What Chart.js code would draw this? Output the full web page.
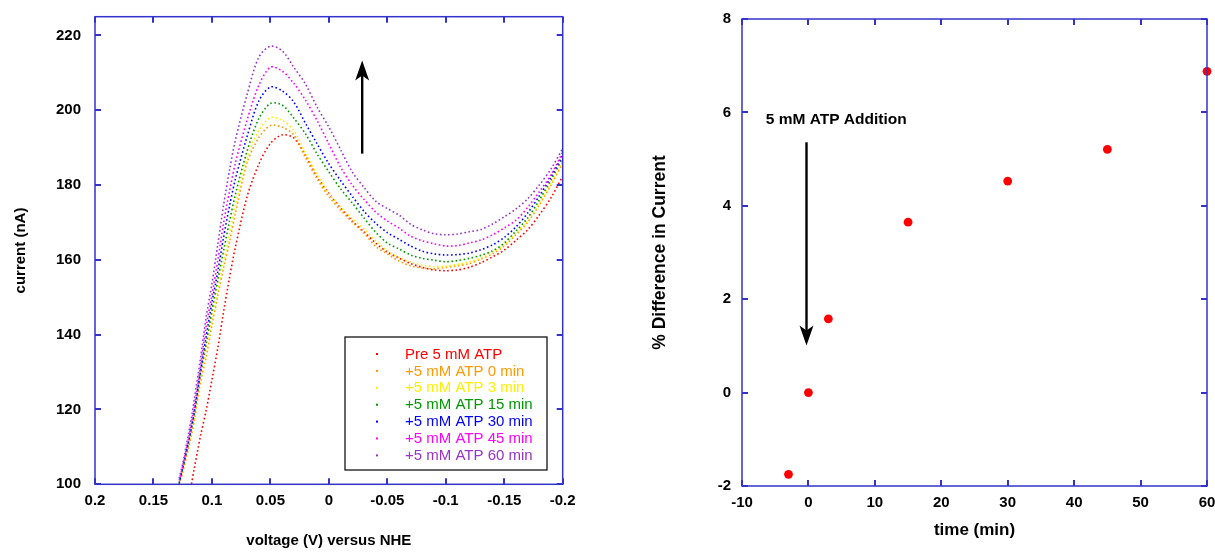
<!DOCTYPE html>
<html><head><meta charset="utf-8">
<script src="https://cdn.jsdelivr.net/npm/chart.js@4"></script>
<style>
html,body{margin:0;padding:0;background:#fff;width:1215px;height:552px;overflow:hidden}
#c1{position:absolute;left:0;top:0}
#c2{position:absolute;left:610px;top:0}
</style></head><body>
<canvas id="c1" width="610" height="552"></canvas>
<canvas id="c2" width="605" height="552"></canvas>
<script>
// ---------- Left chart data: voltage (V) vs current (nA) ----------
const voltage = [0.128, 0.125, 0.12, 0.1175, 0.115, 0.11, 0.105, 0.10, 0.095, 0.09, 0.085, 0.08, 0.07, 0.06, 0.05, 0.04, 0.03, 0.02, 0.01, 0,
  -0.01, -0.02, -0.03, -0.04, -0.05, -0.06, -0.07, -0.08, -0.09, -0.10, -0.11, -0.12, -0.13, -0.14, -0.15, -0.16, -0.17, -0.18, -0.19, -0.20];
const pre5mM = [null, null, null, 100.1, 104.4, 112.6, 119.7, 127.9, 136.4, 146.2, 155.2, 163.3, 176.8, 185.5, 191.1, 193.4, 192.6, 187.9, 182.2, 177.8,
  173.9, 170.4, 167.5, 164.5, 162.1, 160.5, 159.0, 158.0, 157.3, 157.1, 157.3, 158.0, 159.2, 160.8, 162.6, 165.2, 168.0, 172.0, 176.6, 182.4];
const atp0min = [99.9, 103.2, 109.7, 113.2, 117.2, 126.9, 133.9, 142.5, 150.4, 157.8, 164.8, 172.3, 185.9, 192.6, 195.9, 195.5, 193.4, 187.3, 181.6, 176.9,
  173.3, 170.1, 167.2, 163.6, 161.6, 159.7, 158.4, 157.8, 157.6, 158.0, 158.4, 159.0, 160.2, 161.6, 163.7, 166.7, 170.0, 174.7, 180.0, 185.9];
const atp3min = [100.2, 103.6, 110.3, 114.0, 118.1, 128.2, 136.0, 144.2, 152.0, 159.5, 166.9, 174.4, 187.2, 194.5, 198.0, 197.3, 194.6, 188.5, 182.7, 177.8,
  174.1, 171.1, 168.3, 165.1, 162.4, 160.6, 159.4, 158.6, 158.2, 158.3, 158.8, 159.4, 160.5, 162.1, 164.1, 167.2, 170.4, 175.2, 180.6, 186.5];
const atp15min = [100.1, 104.0, 111.0, 114.9, 118.9, 129.1, 137.5, 146.3, 154.5, 162.5, 170.2, 177.4, 189.0, 197.7, 201.8, 201.4, 197.9, 193.7, 188.3, 183.5,
  179.0, 175.2, 171.2, 167.4, 164.5, 162.9, 161.3, 160.4, 159.9, 159.5, 159.8, 160.4, 161.2, 162.4, 164.5, 167.7, 171.2, 176.0, 181.4, 187.3];
const atp30min = [100.4, 104.4, 111.4, 115.3, 119.6, 129.7, 139.4, 148.6, 156.8, 166.1, 174.3, 181.5, 192.9, 202.4, 206.2, 205.2, 202.2, 196.5, 191.0, 185.7,
  181.2, 177.0, 173.0, 169.8, 167.3, 165.5, 163.7, 162.3, 161.6, 161.3, 161.4, 161.8, 162.7, 164.0, 166.0, 168.8, 172.5, 177.1, 182.2, 188.0];
const atp45min = [101.0, 104.9, 112.3, 116.4, 120.9, 131.1, 142.1, 150.6, 159.8, 169.9, 178.3, 185.8, 197.3, 206.6, 211.5, 210.5, 207.2, 202.7, 197.2, 191.0,
  184.8, 180.0, 176.2, 172.8, 170.4, 168.5, 166.3, 165.1, 164.3, 163.7, 163.8, 164.5, 165.3, 166.7, 168.5, 170.6, 174.0, 178.2, 182.7, 188.8];
const atp60min = [101.6, 105.5, 113.6, 117.8, 122.9, 133.2, 144.5, 153.6, 164.1, 174.7, 183.9, 191.9, 204.1, 214.1, 217.1, 215.9, 211.5, 207.0, 200.8, 195.5,
  189.5, 183.5, 179.4, 175.7, 173.7, 172.0, 169.5, 168.0, 167.0, 166.7, 166.9, 167.5, 168.1, 169.6, 171.5, 173.6, 176.3, 180.0, 184.3, 189.8];
const seriesLabels = ['Pre 5 mM ATP', '+5 mM ATP 0 min', '+5 mM ATP 3 min', '+5 mM ATP 15 min', '+5 mM ATP 30 min', '+5 mM ATP 45 min', '+5 mM ATP 60 min'];
const seriesColors = ['#ff0000', '#ff9900', '#ffee00', '#009900', '#0000ff', '#ff00ff', '#9933cc'];
const voltageTicks = [0.2, 0.15, 0.1, 0.05, 0, -0.05, -0.1, -0.15, -0.2];
const currentTicks = [100, 120, 140, 160, 180, 200, 220];
const upArrow = {x: -0.0285, from: 188.4, to: 213.3};

// ---------- Right chart data: time (min) vs % difference ----------
const timeMin = [-3, 0, 3, 15, 30, 45, 60];
const pctDiff = [-1.75, 0, 1.58, 3.65, 4.53, 5.21, 6.88];
const timeTicks = [-10, 0, 10, 20, 30, 40, 50, 60];
const pctTicks = [-2, 0, 2, 4, 6, 8];
const downArrow = {x: -0.29, from: 5.36, to: 1.01};
const note = {text: '5 mM ATP Addition', x: -6.43, y: 5.85};

const FONT = "'Liberation Sans', Arial, Helvetica, sans-serif";
const FRAME = '#3333cc';

const framePlugin = {
  id: 'frame',
  afterDraw(chart) {
    const {ctx, chartArea: a, scales} = chart;
    ctx.save();
    ctx.strokeStyle = FRAME;
    ctx.lineWidth = 1.5;
    ctx.strokeRect(a.left, a.top, a.right - a.left, a.bottom - a.top);
    ctx.lineWidth = 2;
    const L = 6;
    ctx.beginPath();
    scales.x.ticks.forEach(t => {
      const p = Math.round(scales.x.getPixelForValue(t.value));
      ctx.moveTo(p, a.bottom); ctx.lineTo(p, a.bottom - L);
      ctx.moveTo(p, a.top); ctx.lineTo(p, a.top + L);
    });
    scales.y.ticks.forEach(t => {
      const p = Math.round(scales.y.getPixelForValue(t.value));
      ctx.moveTo(a.left, p); ctx.lineTo(a.left + L, p);
      ctx.moveTo(a.right, p); ctx.lineTo(a.right - L, p);
    });
    ctx.stroke();
    ctx.restore();
  }
};

function drawArrow(ctx, x, y0, y1) {
  const dir = y1 < y0 ? -1 : 1;
  const head = 20, half = 7;
  ctx.save();
  ctx.strokeStyle = '#000'; ctx.fillStyle = '#000'; ctx.lineWidth = 2.4;
  ctx.beginPath(); ctx.moveTo(x, y0); ctx.lineTo(x, y1 - dir * head * 0.6); ctx.stroke();
  ctx.beginPath();
  ctx.moveTo(x, y1);
  ctx.lineTo(x - half, y1 - dir * head);
  ctx.lineTo(x, y1 - dir * head * 0.75);
  ctx.lineTo(x + half, y1 - dir * head);
  ctx.closePath(); ctx.fill();
  ctx.restore();
}

const leftDecor = {
  id: 'leftDecor',
  afterDraw(chart) {
    const {ctx, chartArea: a, scales: {x, y}} = chart;
    drawArrow(ctx, x.getPixelForValue(upArrow.x), y.getPixelForValue(upArrow.from), y.getPixelForValue(upArrow.to));
    // legend box
    const bx = a.left + 250, by = 337, bw = 202, bh = 133;
    ctx.save();
    ctx.fillStyle = '#fff'; ctx.fillRect(bx, by, bw, bh);
    ctx.strokeStyle = '#000'; ctx.lineWidth = 1.2; ctx.strokeRect(bx, by, bw, bh);
    ctx.font = '15px ' + FONT; ctx.textBaseline = 'middle'; ctx.textAlign = 'left';
    chart.data.datasets.forEach((ds, i) => {
      const cy = by + 17 + i * 16.9;
      ctx.fillStyle = ds.borderColor;
      ctx.fillRect(bx + 31, cy - 1, 2, 2);
      ctx.fillText(ds.label, bx + 60, cy + 0.5);
    });
    ctx.restore();
  }
};

const rightDecor = {
  id: 'rightDecor',
  afterDraw(chart) {
    const {ctx, scales: {x, y}} = chart;
    drawArrow(ctx, x.getPixelForValue(downArrow.x), y.getPixelForValue(downArrow.from), y.getPixelForValue(downArrow.to));
    ctx.save();
    ctx.fillStyle = '#000'; ctx.font = 'bold 15.5px ' + FONT;
    ctx.textBaseline = 'middle'; ctx.textAlign = 'left';
    ctx.fillText(note.text, x.getPixelForValue(note.x), y.getPixelForValue(note.y));
    ctx.restore();
  }
};

const tickFont = {family: FONT, weight: 'bold', size: 15};
const fmt = v => String(+(+v).toFixed(2));
const fitX = h => s => { s.height = h; s.paddingLeft = 0; s.paddingRight = 0; s.paddingTop = 0; s.paddingBottom = 0; };
const fitY = w => s => { s.width = w; s.paddingLeft = 0; s.paddingRight = 0; s.paddingTop = 0; s.paddingBottom = 0; };

const seriesValues = [pre5mM, atp0min, atp3min, atp15min, atp30min, atp45min, atp60min];
const leftDatasets = seriesValues.map((vals, i) => ({
  label: seriesLabels[i],
  data: voltage.map((v, k) => ({x: v, y: vals[k]})).filter(p => p.y !== null),
  borderColor: seriesColors[i],
  backgroundColor: seriesColors[i],
  showLine: true,
  borderWidth: 1.6,
  borderDash: [1.6, 2.5],
  pointRadius: 0,
  tension: 0.3,
  order: 6 - i
}));

new Chart(document.getElementById('c1'), {
  type: 'scatter',
  data: {datasets: leftDatasets},
  options: {
    responsive: false, animation: false, devicePixelRatio: 1,
    layout: {padding: {top: 16.7, right: 47.3, bottom: 0, left: 0}},
    plugins: {legend: {display: false}, tooltip: {enabled: false}},
    scales: {
      x: {
        type: 'linear', min: -0.2, max: 0.2, reverse: true,
        afterBuildTicks: s => { s.ticks = voltageTicks.map(v => ({value: v})); },
        afterFit: fitX(67.7),
        grid: {display: false, drawTicks: false}, border: {display: false},
        ticks: {color: '#000', font: tickFont, padding: 8, maxRotation: 0, autoSkip: false, callback: fmt},
        title: {display: true, text: 'voltage (V) versus NHE', color: '#000', font: {family: FONT, weight: 'bold', size: 15}, padding: {top: 0, bottom: 2}}
      },
      y: {
        type: 'linear', min: 100, max: 225,
        afterBuildTicks: s => { s.ticks = currentTicks.map(v => ({value: v})); },
        afterFit: fitY(95),
        grid: {display: false, drawTicks: false}, border: {display: false},
        ticks: {color: '#000', font: tickFont, padding: 14, autoSkip: false, callback: fmt},
        title: {display: true, text: 'current (nA)', color: '#000', font: {family: FONT, weight: 'bold', size: 15}, padding: {top: 12, bottom: 0}}
      }
    }
  },
  plugins: [framePlugin, leftDecor]
});

new Chart(document.getElementById('c2'), {
  type: 'scatter',
  data: {datasets: [{
    label: '% Difference',
    data: timeMin.map((t, k) => ({x: t, y: pctDiff[k]})),
    backgroundColor: '#ff0000', borderColor: '#ff0000', borderWidth: 0,
    pointRadius: 4.4, pointStyle: 'circle', clip: false
  }]},
  options: {
    responsive: false, animation: false, devicePixelRatio: 1,
    layout: {padding: {top: 19, right: 8, bottom: 0, left: 0}},
    plugins: {legend: {display: false}, tooltip: {enabled: false}},
    scales: {
      x: {
        type: 'linear', min: -10, max: 60,
        afterBuildTicks: s => { s.ticks = timeTicks.map(v => ({value: v})); },
        afterFit: fitX(66),
        grid: {display: false, drawTicks: false}, border: {display: false},
        ticks: {color: '#000', font: tickFont, padding: 8, maxRotation: 0, autoSkip: false, callback: fmt},
        title: {display: true, text: 'time (min)', color: '#000', font: {family: FONT, weight: 'bold', size: 17}, padding: {top: 0, bottom: 11}}
      },
      y: {
        type: 'linear', min: -2, max: 8,
        afterBuildTicks: s => { s.ticks = pctTicks.map(v => ({value: v})); },
        afterFit: fitY(132),
        grid: {display: false, drawTicks: false}, border: {display: false},
        ticks: {color: '#000', font: tickFont, padding: 11, autoSkip: false, callback: fmt},
        title: {display: true, text: '% Difference in Current', color: '#000', font: {family: FONT, weight: 'bold', size: 17.5}, padding: {top: 40, bottom: 0}}
      }
    }
  },
  plugins: [framePlugin, rightDecor]
});
</script>
</body></html>
